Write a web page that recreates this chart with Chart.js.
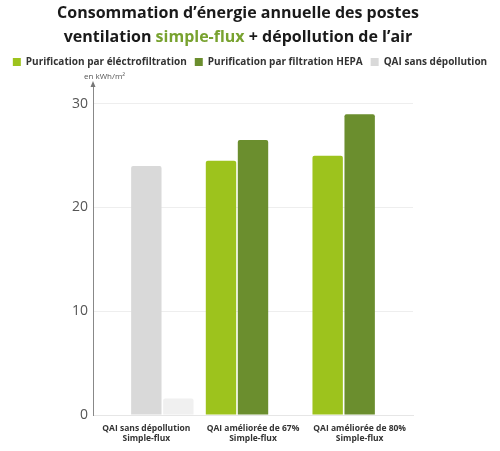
<!DOCTYPE html>
<html>
<head>
<meta charset="utf-8">
<script src="https://cdn.jsdelivr.net/npm/chart.js@4"></script>
<style>
  body { margin: 0; background: #fff; }
  #wrap { position: relative; width: 500px; height: 451px; }
  #titre { position: absolute; left: 0; top: 0px; width: 476px; text-align: center;
    font: bold 16px "Open Sans", sans-serif; line-height: 24px; color: #1a1a1a; }
  #titre span { color: #78a22f; }
  #unite { position: absolute; left: 84px; top: 70px; font: 8px "Open Sans", sans-serif; color: #555; }
</style>
</head>
<body>
<div id="wrap">
  <canvas id="myChart" width="500" height="451"></canvas>
  <div id="titre">Consommation d’énergie annuelle des postes<br>ventilation <span>simple-flux</span> + dépollution de l’air</div>
  <div id="unite">en kWh/m²</div>
</div>
<script>
// categories et valeurs (kWh/m²)
let categories = [
  ["QAI sans dépollution", "Simple-flux"],
  ["QAI améliorée de 67%", "Simple-flux"],
  ["QAI améliorée de 80%", "Simple-flux"],
];
let electro = [null, 24.5, 25];
let hepa = [24, 26.5, 29];
let sansDepollution = [1.6, null, null];
let graduations = [0, 10, 20, 30];

const vertClair = "#9dc31d";
const vertFonce = "#6b8e2e";
const gris = "#d9d9d9";

// fleche en haut de l'axe vertical
const fleche = {
  id: "fleche",
  afterDraw(chart) {
    const c = chart.ctx;
    const x = chart.chartArea.left;
    const y = chart.chartArea.top;
    c.save();
    c.fillStyle = "#777";
    c.beginPath();
    c.moveTo(x, y - 2);
    c.lineTo(x - 2.5, y + 4);
    c.lineTo(x + 2.5, y + 4);
    c.closePath();
    c.fill();
    c.restore();
  },
};

// un peu plus de place sous la legende
const espaceLegende = {
  id: "espaceLegende",
  beforeUpdate(chart) {
    const lg = chart.legend;
    if (lg && !lg._espace) {
      const fit = lg.fit;
      lg.fit = function () {
        fit.call(this);
        this.height += 6;
      };
      lg._espace = true;
    }
  },
};

const ctx = document.getElementById("myChart").getContext("2d");
const myChart = new Chart(ctx, {
  type: "bar",
  data: {
    labels: categories,
    datasets: [
      { label: "Purification par éléctrofiltration", data: electro, backgroundColor: vertClair },
      { label: "Purification par filtration HEPA", data: hepa, backgroundColor: [gris, vertFonce, vertFonce] },
      { label: "QAI sans dépollution", data: sansDepollution, backgroundColor: "#f0f0f0" },
    ],
  },
  options: {
    responsive: false,
    animation: false,
    datasets: {
      bar: { categoryPercentage: 0.9, barPercentage: 0.95, borderRadius: { topLeft: 2, topRight: 2 }, borderSkipped: "bottom" },
    },
    layout: { padding: { top: 49, left: 0, right: 0, bottom: 0 } },
    plugins: {
      tooltip: { enabled: false },
      legend: {
        position: "top",
        labels: {
          boxWidth: 8,
          boxHeight: 8,
          padding: 8,
          color: "#333",
          font: { family: "Open Sans", size: 10, weight: "bold" },
          generateLabels(chart) {
            const couleurs = [vertClair, vertFonce, gris];
            return chart.data.datasets.map((d, i) => ({
              text: d.label,
              fillStyle: couleurs[i],
              strokeStyle: couleurs[i],
              lineWidth: 0,
              datasetIndex: i,
              fontColor: "#333",
            }));
          },
        },
      },
    },
    scales: {
      x: {
        grid: { display: false },
        border: { color: "#e6e6e6" },
        ticks: { color: "#333", font: { family: "Open Sans", size: 8.5, weight: "bold" }, padding: 0, maxRotation: 0 },
        afterFit(s) { s.height = 36; },
      },
      y: {
        min: 0,
        max: 32,
        grid: { color: "#eeeeee", drawTicks: false },
        border: { color: "#888" },
        ticks: { stepSize: 10, color: "#555", font: { family: "Open Sans", size: 14 }, padding: 5 },
        afterBuildTicks(s) { s.ticks = s.ticks.filter((t) => graduations.includes(t.value)); },
        afterFit(s) { s.width = 93; },
      },
      marge: {
        position: "right",
        grid: { display: false },
        border: { display: false },
        ticks: { display: false },
        afterFit(s) { s.width = 87; },
      },
    },
  },
  plugins: [fleche, espaceLegende],
});
</script>
</body>
</html>
